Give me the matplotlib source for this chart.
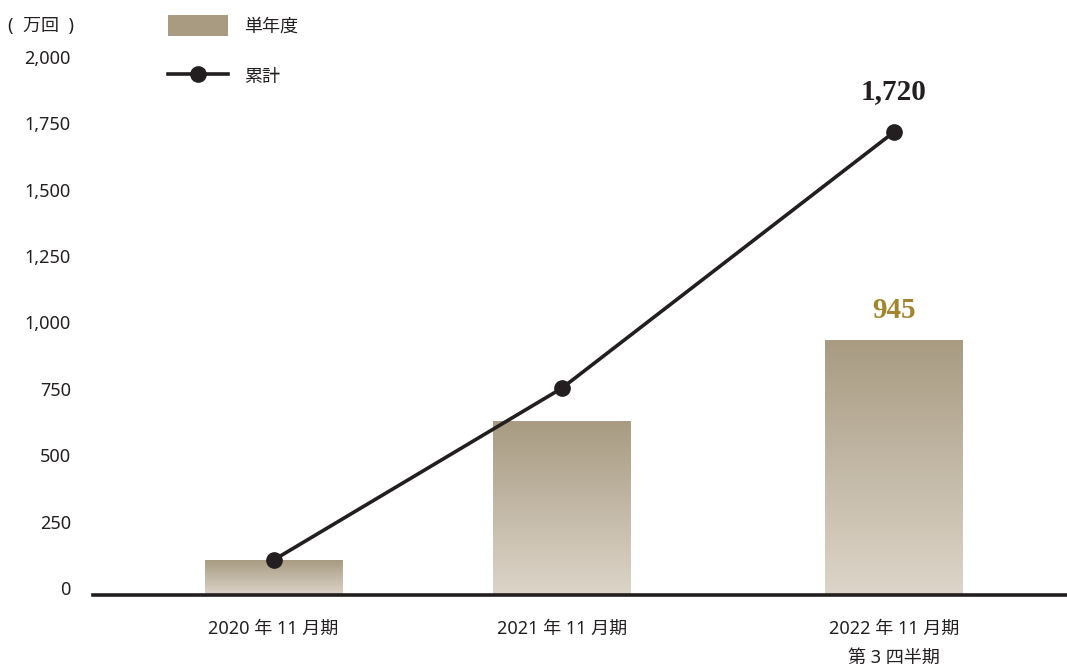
import matplotlib
matplotlib.use("Agg")
import matplotlib.pyplot as plt
import matplotlib.transforms as mtrans
import numpy as np
from matplotlib.colors import LinearSegmentedColormap
from matplotlib.lines import Line2D
from matplotlib.patches import Patch

plt.rcParams['font.family'] = ['Noto Sans', 'Noto Sans CJK JP', 'DejaVu Sans']

# Data
periods = ["2020 年 11 月期", "2021 年 11 月期", "2022 年 11 月期\n第 3 四半期"]
single_year = [130, 645, 945]      # 単年度 (万回)
cumulative = [130, 768, 1720]      # 累計 (万回)
y_ticks = [0, 250, 500, 750, 1000, 1250, 1500, 1750, 2000]

# layout (category positions are not evenly spaced in the original)
xpos = [0, 1, 2.153]
bar_w = 0.476

text_col = '#231f20'
gold = '#a3852f'
bar_top = '#a89b82'
bar_bottom = '#ddd5c9'

fig = plt.figure(figsize=(10.67, 6.67), dpi=100)
ax = fig.add_axes([93/1067, (667-595)/667, 1 - 93/1067, (595-40)/667])

bars = ax.bar(xpos, single_year, width=bar_w, color=bar_top, zorder=2)

# vertical gradient inside each bar
cmap = LinearSegmentedColormap.from_list('bar', [bar_bottom, bar_top])
grad = np.linspace(0, 1, 256).reshape(-1, 1)
for b in bars:
    x0 = b.get_x()
    ax.imshow(grad, cmap=cmap, origin='lower', aspect='auto', zorder=2.1,
              extent=[x0, x0 + b.get_width(), 0, b.get_height()])

ax.plot(xpos, cumulative, color=text_col, lw=2.6, marker='o', ms=11,
        zorder=4, solid_capstyle='round')

ax.set_xlim(-0.627, 2.755)
ax.set_ylim(0, (595 - 40) / 0.269)

ax.set_yticks(y_ticks)
ax.set_yticklabels([f"{v:,}" for v in y_ticks])
ax.set_xticks(xpos)
ax.set_xticklabels(periods)
ax.tick_params(axis='y', length=0, pad=16, labelsize=13, labelcolor=text_col)
ax.tick_params(axis='x', length=0, pad=18, labelsize=13, labelcolor=text_col)
for lab in ax.get_xticklabels():
    lab.set_linespacing(1.8)
    lab.set_verticalalignment('top')
# labels in the original sit slightly higher near the bottom
for v, lab in zip(y_ticks, ax.get_yticklabels()):
    dy = 7 * (1 - v / 2000) / 100
    lab.set_transform(lab.get_transform() + mtrans.ScaledTranslation(0, dy, fig.dpi_scale_trans))

for s in ['left', 'right', 'top']:
    ax.spines[s].set_visible(False)
ax.spines['bottom'].set_color(text_col)
ax.spines['bottom'].set_linewidth(2.6)
ax.spines['bottom'].set_zorder(5)

# value labels
ax.annotate(f"{cumulative[-1]:,}", (xpos[-1], cumulative[-1]), xytext=(0, 29),
            textcoords='offset points', ha='center', va='center',
            fontsize=21, fontweight='bold', family='Liberation Serif', color=text_col)
ax.annotate(f"{single_year[-1]:,}", (xpos[-1], single_year[-1]), xytext=(0, 22),
            textcoords='offset points', ha='center', va='center',
            fontsize=21, fontweight='bold', family='Liberation Serif', color=gold)

# unit label
fig.text(8/1067, 1 - 26/667, "(  万回  )", fontsize=13, color=text_col, va='center')

# legend
handles = [Patch(facecolor=bar_top, edgecolor='none'),
           Line2D([0], [0], color=text_col, lw=2.6, marker='o', ms=11)]
fig.legend(handles, ["単年度", "累計"], loc='upper left',
           bbox_to_anchor=(168/1067, 1 - 15/667), frameon=False, fontsize=13,
           handlelength=3.3, handleheight=1.4, handletextpad=0.9,
           labelspacing=1.65, borderpad=0, borderaxespad=0, labelcolor=text_col)

fig.savefig("out.png", dpi=100)
